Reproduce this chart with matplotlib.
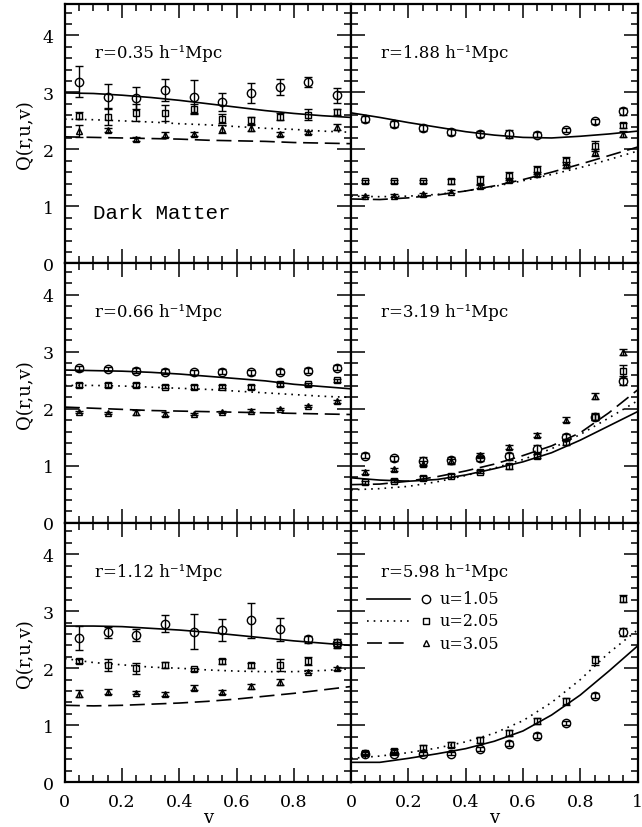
import numpy as np
import matplotlib
matplotlib.use('Agg')
import matplotlib.pyplot as plt
from matplotlib.ticker import MultipleLocator

plt.rcParams['font.family'] = ['DejaVu Serif']

# --------------------------------------------------------------------
# -- mesures de Q(r,u,v) : points à v = 0.05 ... 0.95
# --------------------------------------------------------------------
v_pts = [0.05, 0.15, 0.25, 0.35, 0.45, 0.55, 0.65, 0.75, 0.85, 0.95]
# grille des courbes du modèle
v_mod = [0.0, 0.1, 0.2, 0.3, 0.4, 0.5, 0.6, 0.7, 0.8, 0.9, 1.0]

r_labels = ['r=0.35 h⁻¹Mpc', 'r=1.88 h⁻¹Mpc',
            'r=0.66 h⁻¹Mpc', 'r=3.19 h⁻¹Mpc',
            'r=1.12 h⁻¹Mpc', 'r=5.98 h⁻¹Mpc']
u_labels = ['u=1.05', 'u=2.05', 'u=3.05']

# r = 0.35
q035_u1 = [3.19, 2.92, 2.90, 3.04, 2.92, 2.83, 2.99, 3.09, 3.18, 2.95]
e035_u1 = [0.27, 0.22, 0.20, 0.20, 0.30, 0.15, 0.17, 0.14, 0.09, 0.13]
q035_u2 = [2.59, 2.57, 2.64, 2.63, 2.71, 2.54, 2.51, 2.57, 2.61, 2.66]
e035_u2 = [0.06, 0.15, 0.15, 0.14, 0.08, 0.08, 0.06, 0.06, 0.10, 0.05]
q035_u3 = [2.32, 2.34, 2.18, 2.26, 2.27, 2.35, 2.38, 2.27, 2.30, 2.39]
e035_u3 = [0.10, 0.04, 0.03, 0.04, 0.04, 0.07, 0.05, 0.04, 0.03, 0.05]
m035_u1 = [2.99, 2.98, 2.95, 2.91, 2.86, 2.80, 2.74, 2.68, 2.63, 2.59, 2.56]
m035_u2 = [2.53, 2.52, 2.50, 2.48, 2.45, 2.43, 2.40, 2.37, 2.35, 2.32, 2.30]
m035_u3 = [2.22, 2.21, 2.20, 2.19, 2.18, 2.16, 2.15, 2.14, 2.12, 2.11, 2.10]

# r = 1.88
q188_u1 = [2.53, 2.45, 2.38, 2.30, 2.27, 2.27, 2.26, 2.34, 2.49, 2.67]
e188_u1 = [0.05, 0.05, 0.05, 0.05, 0.05, 0.07, 0.05, 0.04, 0.04, 0.06]
q188_u2 = [1.44, 1.44, 1.44, 1.44, 1.47, 1.54, 1.64, 1.80, 2.06, 2.42]
e188_u2 = [0.03, 0.03, 0.03, 0.04, 0.07, 0.07, 0.07, 0.07, 0.08, 0.05]
q188_u3 = [1.18, 1.19, 1.21, 1.26, 1.35, 1.46, 1.57, 1.72, 1.95, 2.27]
e188_u3 = [0.02, 0.02, 0.02, 0.03, 0.03, 0.04, 0.04, 0.05, 0.06, 0.05]
m188_u1 = [2.64, 2.56, 2.47, 2.39, 2.31, 2.25, 2.21, 2.20, 2.23, 2.27, 2.32]
m188_u2 = [1.18, 1.17, 1.18, 1.21, 1.27, 1.35, 1.45, 1.56, 1.68, 1.82, 1.97]
m188_u3 = [1.13, 1.12, 1.15, 1.20, 1.27, 1.36, 1.47, 1.60, 1.74, 1.89, 2.04]

# r = 0.66
q066_u1 = [2.71, 2.70, 2.67, 2.65, 2.64, 2.65, 2.64, 2.65, 2.67, 2.72]
e066_u1 = [0.04, 0.04, 0.04, 0.04, 0.04, 0.04, 0.04, 0.04, 0.04, 0.04]
q066_u2 = [2.42, 2.42, 2.42, 2.39, 2.38, 2.39, 2.38, 2.43, 2.43, 2.50]
e066_u2 = [0.03, 0.03, 0.03, 0.03, 0.03, 0.03, 0.03, 0.03, 0.03, 0.03]
q066_u3 = [1.95, 1.93, 1.94, 1.91, 1.91, 1.95, 1.97, 2.00, 2.05, 2.13]
e066_u3 = [0.02, 0.02, 0.04, 0.03, 0.02, 0.02, 0.02, 0.02, 0.02, 0.03]
m066_u1 = [2.68, 2.67, 2.66, 2.64, 2.61, 2.57, 2.53, 2.49, 2.43, 2.39, 2.35]
m066_u2 = [2.41, 2.41, 2.40, 2.38, 2.36, 2.34, 2.31, 2.28, 2.25, 2.22, 2.20]
m066_u3 = [2.03, 2.01, 1.99, 1.97, 1.96, 1.95, 1.94, 1.93, 1.92, 1.91, 1.90]

# r = 3.19
q319_u1 = [1.18, 1.13, 1.08, 1.10, 1.13, 1.17, 1.30, 1.51, 1.86, 2.48]
e319_u1 = [0.04, 0.04, 0.07, 0.05, 0.05, 0.06, 0.06, 0.05, 0.05, 0.06]
q319_u2 = [0.71, 0.74, 0.79, 0.83, 0.90, 0.99, 1.17, 1.42, 1.86, 2.67]
e319_u2 = [0.03, 0.03, 0.04, 0.03, 0.03, 0.04, 0.04, 0.05, 0.06, 0.10]
q319_u3 = [0.89, 0.94, 1.04, 1.08, 1.19, 1.33, 1.54, 1.81, 2.23, 3.00]
e319_u3 = [0.03, 0.03, 0.04, 0.04, 0.04, 0.04, 0.04, 0.04, 0.05, 0.05]
m319_u1 = [0.79, 0.75, 0.73, 0.76, 0.84, 0.95, 1.07, 1.23, 1.45, 1.70, 1.95]
m319_u2 = [0.58, 0.60, 0.64, 0.72, 0.83, 0.96, 1.11, 1.30, 1.55, 1.84, 2.14]
m319_u3 = [0.67, 0.68, 0.73, 0.81, 0.91, 1.03, 1.18, 1.35, 1.58, 1.93, 2.33]

# r = 1.12
q112_u1 = [2.53, 2.63, 2.58, 2.78, 2.64, 2.67, 2.84, 2.68, 2.51, 2.45]
e112_u1 = [0.21, 0.10, 0.10, 0.15, 0.31, 0.19, 0.31, 0.21, 0.06, 0.06]
q112_u2 = [2.13, 2.06, 2.00, 2.06, 1.98, 2.12, 2.05, 2.06, 2.13, 2.41]
e112_u2 = [0.04, 0.10, 0.10, 0.05, 0.03, 0.05, 0.04, 0.10, 0.07, 0.05]
q112_u3 = [1.55, 1.59, 1.57, 1.55, 1.66, 1.58, 1.68, 1.76, 1.94, 2.00]
e112_u3 = [0.06, 0.04, 0.03, 0.03, 0.05, 0.04, 0.05, 0.05, 0.03, 0.03]
m112_u1 = [2.74, 2.74, 2.73, 2.70, 2.67, 2.63, 2.58, 2.53, 2.48, 2.44, 2.40]
m112_u2 = [2.17, 2.10, 2.06, 2.02, 2.00, 1.97, 1.95, 1.94, 1.94, 1.96, 1.99]
m112_u3 = [1.35, 1.34, 1.35, 1.37, 1.39, 1.42, 1.46, 1.51, 1.56, 1.62, 1.68]

# r = 5.98 (pas de u=3.05)
q598_u1 = [0.50, 0.50, 0.50, 0.50, 0.58, 0.68, 0.82, 1.04, 1.52, 2.64]
e598_u1 = [0.03, 0.03, 0.03, 0.03, 0.04, 0.04, 0.04, 0.04, 0.05, 0.07]
q598_u2 = [0.52, 0.55, 0.61, 0.66, 0.74, 0.87, 1.07, 1.42, 2.14, 3.22]
e598_u2 = [0.03, 0.03, 0.04, 0.04, 0.05, 0.05, 0.05, 0.06, 0.08, 0.06]
m598_u1 = [0.35, 0.35, 0.42, 0.50, 0.59, 0.72, 0.90, 1.18, 1.53, 1.95, 2.39]
m598_u2 = [0.42, 0.46, 0.52, 0.60, 0.71, 0.86, 1.08, 1.40, 1.80, 2.27, 2.67]

panels = [
    [(q035_u1, e035_u1, m035_u1), (q035_u2, e035_u2, m035_u2), (q035_u3, e035_u3, m035_u3)],
    [(q188_u1, e188_u1, m188_u1), (q188_u2, e188_u2, m188_u2), (q188_u3, e188_u3, m188_u3)],
    [(q066_u1, e066_u1, m066_u1), (q066_u2, e066_u2, m066_u2), (q066_u3, e066_u3, m066_u3)],
    [(q319_u1, e319_u1, m319_u1), (q319_u2, e319_u2, m319_u2), (q319_u3, e319_u3, m319_u3)],
    [(q112_u1, e112_u1, m112_u1), (q112_u2, e112_u2, m112_u2), (q112_u3, e112_u3, m112_u3)],
    [(q598_u1, e598_u1, m598_u1), (q598_u2, e598_u2, m598_u2)],
]

# styles : u=1.05 cercle/trait plein, u=2.05 carré/pointillé, u=3.05 triangle/tirets
markers = ['o', 's', '^']
msizes = [6.0, 4.3, 4.6]
lstyles = ['-', (0, (1, 3)), (0, (9, 4))]

fig, axes = plt.subplots(3, 2, figsize=(6.42, 8.28), sharex=False, sharey=False)
fig.subplots_adjust(left=0.101, right=0.993, top=0.994, bottom=0.054,
                    hspace=0, wspace=0)

for k, ax in enumerate(axes.flat):
    for j, (q, e, m) in enumerate(panels[k]):
        ax.errorbar(v_pts, q, yerr=e, fmt=markers[j], ms=msizes[j],
                    mfc='none', mec='k', mew=1.0, ecolor='k', elinewidth=1.0,
                    capsize=3.0, capthick=1.0)
        ax.plot(v_mod, m, color='k', lw=1.2, ls=lstyles[j])
    ax.text(0.105, 3.7, r_labels[k], fontsize=12, ha='left', va='center')

    ax.set_xlim(0, 1)
    ax.set_ylim(0, 4.55)
    ax.xaxis.set_minor_locator(MultipleLocator(0.05))
    ax.yaxis.set_minor_locator(MultipleLocator(0.2))
    ax.set_xticks([0, 0.2, 0.4, 0.6, 0.8, 1.0])
    ax.set_yticks([0, 1, 2, 3, 4])
    ax.tick_params(which='both', direction='in', top=True, right=True,
                   width=1.1, labelsize=12.5, pad=8)
    ax.tick_params(which='major', length=10)
    ax.tick_params(which='minor', length=5)
    for sp in ax.spines.values():
        sp.set_linewidth(1.6)

    col = k % 2
    row = k // 2
    if col == 0:
        ax.set_yticklabels(['0', '1', '2', '3', '4'])
        ax.set_ylabel('Q(r,u,v)', fontsize=13, labelpad=6)
    else:
        ax.set_yticklabels([])
    if row == 2:
        if col == 0:
            ax.set_xticklabels(['0', '0.2', '0.4', '0.6', '0.8', ''])
        else:
            ax.set_xticklabels(['0', '0.2', '0.4', '0.6', '0.8', '1'])
        ax.set_xlabel('v', fontsize=13, labelpad=-2)
    else:
        ax.set_xticklabels([])

axes[0, 0].text(0.098, 0.9, 'Dark Matter', fontsize=15,
                family='Liberation Mono', ha='left', va='center')

# légende dans le dernier panneau : trait, symbole, étiquette
ax = axes[2, 1]
for j in range(3):
    yk = 0.708 - j * 0.086
    ax.plot([0.056, 0.206], [yk, yk], transform=ax.transAxes, color='k',
            lw=1.2, ls=lstyles[j])
    ax.plot([0.26], [yk], transform=ax.transAxes, marker=markers[j],
            ms=msizes[j], mfc='none', mec='k', mew=1.0, ls='none')
    ax.text(0.31, yk, u_labels[j], transform=ax.transAxes, fontsize=11.5,
            ha='left', va='center')

plt.savefig('out.png', dpi=100)
